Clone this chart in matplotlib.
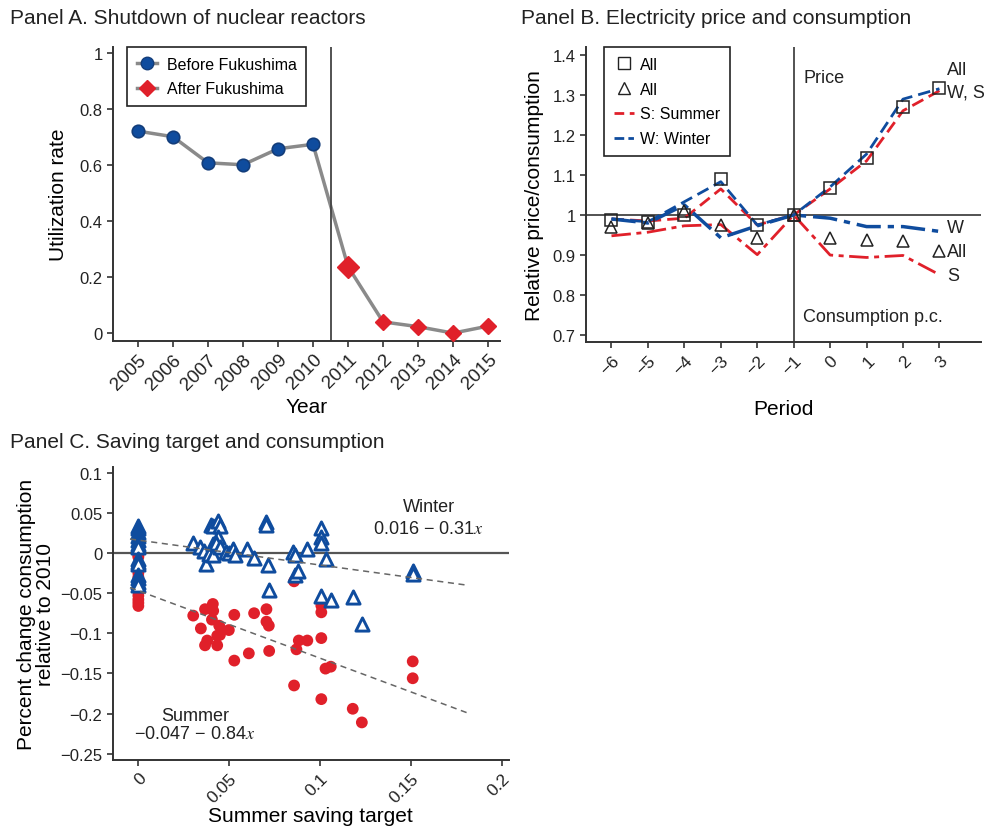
import matplotlib
matplotlib.use("Agg")
import matplotlib.pyplot as plt
from matplotlib.lines import Line2D

plt.rcParams['font.family'] = ['Liberation Sans', 'DejaVu Sans']
plt.rcParams['mathtext.fontset'] = 'stix'
plt.rcParams['axes.unicode_minus'] = True

BLUE = '#0f4c9e'
BLUE_EDGE = '#133d7a'
RED = '#e0202a'
GREY = '#8a8a8a'
DARK = '#333333'

# Panel A: nuclear utilization rate
years = [2005, 2006, 2007, 2008, 2009, 2010, 2011, 2012, 2013, 2014, 2015]
util_before = [0.72, 0.70, 0.607, 0.60, 0.657, 0.673]
util_after = [0.237, 0.04, 0.023, 0.0, 0.025]

# Panel B: relative price / consumption by period
periods = [-6, -5, -4, -3, -2, -1, 0, 1, 2, 3]
price_all = [0.988, 0.983, 1.0, 1.089, 0.975, 1.0, 1.068, 1.142, 1.269, 1.317]
cons_all = [0.969, 0.979, 1.011, 0.976, 0.943, 1.0, 0.943, 0.937, 0.934, 0.909]
price_summer = [0.99, 0.985, 0.992, 1.065, 0.975, 1.0, 1.065, 1.135, 1.26, 1.31]
price_winter = [0.99, 0.983, 1.033, 1.083, 0.975, 1.0, 1.07, 1.152, 1.289, 1.315]
cons_summer = [0.948, 0.957, 0.973, 0.976, 0.901, 1.0, 0.90, 0.894, 0.899, 0.851]
cons_winter = [0.99, 0.98, 1.025, 0.943, 0.973, 1.0, 0.992, 0.971, 0.971, 0.959]

# Panel C: saving target vs change in consumption
winter_x = [0, 0, 0, 0, 0, 0, 0, 0, 0, 0, 0, 0, 0, 0,
            0.030, 0.034, 0.036, 0.037, 0.040, 0.041, 0.041, 0.039, 0.041,
            0.044, 0.045, 0.044, 0.043, 0.045, 0.0485, 0.050, 0.052, 0.053,
            0.060, 0.0636, 0.0705, 0.0705, 0.0714, 0.072, 0.085, 0.086,
            0.086, 0.088, 0.093, 0.1007, 0.1007, 0.1007, 0.103, 0.1007,
            0.106, 0.118, 0.123, 0.151, 0.151]
winter_y = [0.034, 0.031, 0.026, 0.021, 0.016, 0.011, 0.008, -0.008,
            -0.011, -0.014, -0.027, -0.031, -0.036, -0.040,
            0.0125, 0.007, 0.003, -0.0137, 0.035, 0.034, 0.011, -0.001,
            -0.003, 0.040, 0.034, 0.0195, 0.012, 0.007, 0.001, 0.0, 0.005,
            -0.0025, 0.005, -0.0066, 0.038, 0.035, -0.015, -0.0457, 0.001,
            -0.003, -0.028, -0.022, 0.005, 0.0307, 0.0195, 0.0125, -0.0075,
            -0.053, -0.059, -0.055, -0.089, -0.023, -0.026]
summer_x = [0, 0, 0, 0, 0, 0, 0, 0, 0, 0, 0, 0, 0,
            0.0302, 0.0344, 0.0367, 0.0367, 0.0379, 0.041, 0.0412, 0.0405,
            0.0445, 0.0434, 0.0434, 0.0449, 0.0498, 0.0528, 0.0528, 0.0608,
            0.0637, 0.0705, 0.0705, 0.0718, 0.072, 0.0857, 0.0857, 0.087,
            0.0883, 0.093, 0.1007, 0.1007, 0.1007, 0.1007, 0.103, 0.1059,
            0.118, 0.123, 0.151, 0.151]
summer_y = [0.0, -0.003, -0.005, -0.02, -0.025, -0.03, -0.036, -0.042,
            -0.048, -0.053, -0.058, -0.062, -0.066,
            -0.078, -0.094, -0.070, -0.115, -0.109, -0.0635, -0.072, -0.083,
            -0.0905, -0.103, -0.115, -0.102, -0.096, -0.077, -0.134, -0.125,
            -0.075, -0.070, -0.0855, -0.0905, -0.122, -0.0353, -0.165, -0.120,
            -0.109, -0.109, -0.0656, -0.0739, -0.106, -0.182, -0.144, -0.1416,
            -0.194, -0.211, -0.135, -0.156]
winter_fit = (0.016, -0.31)
summer_fit = (-0.047, -0.84)
fit_range = (-0.0046, 0.181)


def fmt(v):
    s = '%g' % v
    return s.replace('-', '\u2212')


def style_axes(ax):
    for side in ['top', 'right']:
        ax.spines[side].set_visible(False)
    for side in ['left', 'bottom']:
        ax.spines[side].set_linewidth(1.4)
        ax.spines[side].set_color(DARK)
    ax.tick_params(direction='out', length=4, width=1.2, color=DARK,
                   labelsize=12, labelcolor='#222222')


fig = plt.figure(figsize=(9.88, 8.28), dpi=100)

# ---------------- Panel A ----------------
axA = fig.add_axes([0.1144, 0.587, 0.3917, 0.3551])
style_axes(axA)
axA.plot(years, util_before + util_after, color=GREY, lw=2.5, zorder=2)
axA.plot(years[:6], util_before, 'o', ms=9, mfc=BLUE, mec=BLUE_EDGE,
         mew=1.2, zorder=3)
axA.plot(years[6:7], util_after[:1], 'D', ms=11, mfc=RED, mec=RED, zorder=3)
axA.plot(years[7:], util_after[1:], 'D', ms=8, mfc=RED, mec=RED, zorder=3)
axA.axvline(2010.5, color='#444444', lw=1.3)
axA.set_xlim(2004.29, 2015.34)
axA.set_ylim(-0.028, 1.02)
yt = [0, 0.2, 0.4, 0.6, 0.8, 1]
axA.set_yticks(yt)
axA.set_yticklabels([fmt(v) for v in yt])
axA.set_xticks(years)
axA.set_xticklabels([str(y) for y in years], rotation=45, ha='right',
                    va='top', rotation_mode='anchor', fontsize=13.5)
axA.tick_params(axis='x', pad=3)
axA.set_xlabel('Year', fontsize=15, labelpad=3)
axA.set_ylabel('Utilization rate', fontsize=15, labelpad=8)
handles_a = [
    Line2D([], [], color=GREY, lw=2.5, marker='o', ms=9, mfc=BLUE,
           mec=BLUE_EDGE),
    Line2D([], [], color=GREY, lw=2.5, marker='D', ms=8, mfc=RED, mec=RED),
]
legA = axA.legend(handles_a, ['Before Fukushima', 'After Fukushima'],
                  loc='upper left', bbox_to_anchor=(0.036, 1.0),
                  borderaxespad=0, fontsize=11.5,
                  frameon=True, fancybox=False, framealpha=1,
                  edgecolor='#222222', handlelength=1.3, borderpad=0.6,
                  labelspacing=0.6, handletextpad=0.6)
legA.get_frame().set_linewidth(1.2)

# ---------------- Panel B ----------------
axB = fig.add_axes([0.5931, 0.5857, 0.3998, 0.3563])
style_axes(axB)
axB.axhline(1.0, color='#444444', lw=1.3, zorder=1)
axB.axvline(-1, color='#444444', lw=1.3, zorder=1)
dash = (0, (4.5, 2.2))
dashdot = (0, (7, 2, 1.8, 2))
axB.plot(periods, price_summer, color=RED, lw=2, linestyle=dash, zorder=2)
axB.plot(periods, price_winter, color=BLUE, lw=2, linestyle=dash, zorder=2)
axB.plot(periods, cons_summer, color=RED, lw=2, linestyle=dashdot, zorder=2)
axB.plot(periods, cons_winter, color=BLUE, lw=2.5, linestyle=dashdot, zorder=2)
axB.plot(periods, price_all, 's', ms=9, mfc='none', mec='#222222', mew=1.1,
         zorder=3)
axB.plot(periods, cons_all, '^', ms=9, mfc='none', mec='#222222', mew=1.1,
         zorder=3)
axB.set_xlim(-6.7, 4.14)
axB.set_ylim(0.683, 1.419)
ytB = [0.7, 0.8, 0.9, 1.0, 1.1, 1.2, 1.3, 1.4]
axB.set_yticks(ytB)
axB.set_yticklabels([fmt(v) for v in ytB])
axB.set_xticks(periods)
axB.set_xticklabels([fmt(p) for p in periods], rotation=45, ha='right',
                    va='top', rotation_mode='anchor', fontsize=12.5)
axB.set_xlabel('Period', fontsize=15, labelpad=16)
axB.set_ylabel('Relative price/consumption', fontsize=15, labelpad=6)
ann = dict(fontsize=13, color='#222222', va='center', ha='left')
axB.text(-0.74, 1.344, 'Price', **ann)
axB.text(-0.74, 0.746, 'Consumption p.c.', **ann)
axB.text(3.21, 1.364, 'All', **ann)
axB.text(3.21, 1.307, 'W, S', **ann)
axB.text(3.21, 0.968, 'W', **ann)
axB.text(3.21, 0.908, 'All', **ann)
axB.text(3.21, 0.848, 'S', **ann)
handles_b = [
    Line2D([], [], linestyle='none', marker='s', ms=8, mfc='none',
           mec='#222222'),
    Line2D([], [], linestyle='none', marker='^', ms=8, mfc='none',
           mec='#222222'),
    Line2D([], [], color=RED, lw=2, linestyle=(0, (3.5, 2))),
    Line2D([], [], color=BLUE, lw=2, linestyle=(0, (3.5, 1.5, 2, 1.5))),
]
legB = axB.legend(handles_b, ['All', 'All', 'S: Summer', 'W: Winter'],
                  loc='upper left', bbox_to_anchor=(0.0456, 1.0),
                  borderaxespad=0, fontsize=11.5,
                  frameon=True, fancybox=False, framealpha=1,
                  edgecolor='#222222', handlelength=1.3, borderpad=0.6,
                  labelspacing=0.62, handletextpad=0.35)
legB.get_frame().set_linewidth(1.2)

# ---------------- Panel C ----------------
axC = fig.add_axes([0.1141, 0.0813, 0.4011, 0.3539])
style_axes(axC)
axC.axhline(0, color='#555555', lw=1.6, zorder=1)
fx = list(fit_range)
axC.plot(fx, [winter_fit[0] + winter_fit[1] * v for v in fx],
         color='#666666', lw=1.1, linestyle=(0, (4, 3)), zorder=4)
axC.plot(fx, [summer_fit[0] + summer_fit[1] * v for v in fx],
         color='#666666', lw=1.1, linestyle=(0, (4, 3)), zorder=4)
axC.scatter(summer_x, summer_y, s=72, color=RED, edgecolors='none', zorder=2)
axC.scatter(winter_x, winter_y, s=90, marker='^', facecolors='white',
            edgecolors=BLUE, linewidths=2.1, zorder=3)
axC.set_xlim(-0.0141, 0.204)
axC.set_ylim(-0.2574, 0.1075)
ytC = [-0.25, -0.2, -0.15, -0.1, -0.05, 0, 0.05, 0.1]
axC.set_yticks(ytC)
axC.set_yticklabels([fmt(v) for v in ytC])
xtC = [0, 0.05, 0.1, 0.15, 0.2]
axC.set_xticks(xtC)
axC.set_xticklabels([fmt(v) for v in xtC], rotation=45, ha='right',
                    va='top', rotation_mode='anchor', fontsize=12.5)
axC.set_xlabel('Summer saving target', fontsize=15, labelpad=1)
axC.set_ylabel('Percent change consumption\nrelative to 2010', fontsize=15,
               labelpad=4, linespacing=1.0)
txt = dict(fontsize=13, color='#222222', ha='center', va='center')
axC.text(0.1597, 0.0577, 'Winter', **txt)
axC.text(0.1597, 0.031, '0.016 \u2212 0.31$x$', **txt)
axC.text(0.0312, -0.2018, 'Summer', **txt)
axC.text(0.0312, -0.2254, '\u22120.047 \u2212 0.84$x$', **txt)

# panel titles
title_kw = dict(fontsize=15, color='#222222', ha='left', va='center')
fig.text(10 / 988, 1 - 18 / 828, 'Panel A. Shutdown of nuclear reactors',
         **title_kw)
fig.text(521 / 988, 1 - 18 / 828, 'Panel B. Electricity price and consumption',
         **title_kw)
fig.text(10 / 988, 1 - 443 / 828, 'Panel C. Saving target and consumption',
         **title_kw)

fig.savefig('out.png', dpi=100)
